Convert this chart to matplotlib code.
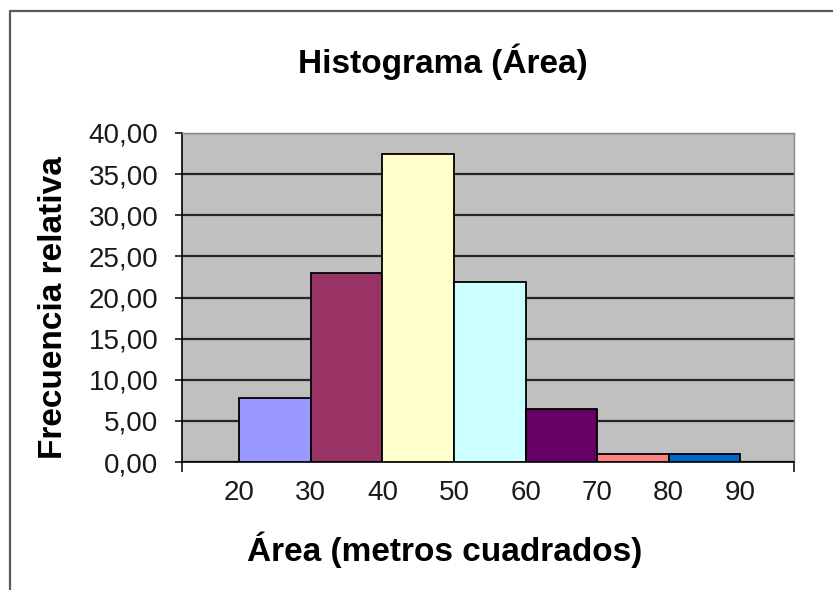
import matplotlib
matplotlib.use("Agg")
import matplotlib.pyplot as plt
from matplotlib.lines import Line2D
from matplotlib.ticker import FixedLocator, FuncFormatter

# Histogram data: class boundaries (m²) and relative frequency (%) per class
bin_edges = [20, 30, 40, 50, 60, 70, 80, 90]
rel_freq = [7.77, 23.0, 37.5, 21.9, 6.4, 1.0, 1.0]
bar_colors = ["#9999FF", "#993366", "#FFFFCC", "#CCFFFF", "#660066", "#FF8080", "#0066CC"]
y_ticks = [0, 5, 10, 15, 20, 25, 30, 35, 40]

title = "Histograma (Área)"
x_label = "Área (metros cuadrados)"
y_label = "Frecuencia relativa"

plt.rcParams["font.family"] = ["Liberation Sans", "DejaVu Sans"]

W, H = 833, 590
fig = plt.figure(figsize=(W / 100, H / 100), dpi=100)
fig.patch.set_facecolor("white")

# plot area in pixel terms
left, right, top, bottom = 182, 794, 133, 462
ax = fig.add_axes([left / W, 1 - bottom / H, (right - left) / W, (bottom - top) / H])
ax.set_facecolor("#C0C0C0")

widths = [b - a for a, b in zip(bin_edges[:-1], bin_edges[1:])]
ax.bar(bin_edges[:-1], rel_freq, width=widths, align="edge",
       color=bar_colors, edgecolor="black", linewidth=1.3, zorder=3)

ax.set_xlim(12.0, 97.5)
ax.set_ylim(y_ticks[0], y_ticks[-1])

# y axis
ax.yaxis.set_major_locator(FixedLocator(y_ticks))
ax.yaxis.set_major_formatter(FuncFormatter(lambda v, p: f"{v:.2f}".replace(".", ",")))
ax.tick_params(axis="y", direction="out", length=5, width=1.1, pad=12,
               labelsize=20, labelcolor="#1a1a1a", color="black")
ax.grid(axis="y", color="#262626", linewidth=1.6, zorder=1)
ax.set_axisbelow(True)

# x axis: labels at class boundaries, tick marks only at both ends
ax.set_xticks(bin_edges)
ax.set_xticklabels([str(e) for e in bin_edges])
ax.tick_params(axis="x", which="major", length=0, pad=13,
               labelsize=20, labelcolor="#1a1a1a")
ax.set_xticks(list(ax.get_xlim()), minor=True)
ax.tick_params(axis="x", which="minor", direction="out", length=7, width=1.1, color="black")

for side in ("left", "bottom"):
    ax.spines[side].set_color("black")
    ax.spines[side].set_linewidth(1.2)
for side in ("top", "right"):
    ax.spines[side].set_color("#8a8a8a")
    ax.spines[side].set_linewidth(1.0)

# chart titles
fig.text(443 / W, 1 - 62 / H, title, ha="center", va="center",
         fontsize=24, fontweight="bold", color="black")
fig.text(54 / W, 1 - 308 / H, y_label, ha="center", va="center", rotation=90,
         fontsize=24, fontweight="bold", color="black")
fig.text(445 / W, 1 - 550 / H, x_label, ha="center", va="center",
         fontsize=24, fontweight="bold", color="black")

# chart frame (runs off the right and bottom edges)
fx, fy = 10 / W, 1 - 11 / H
fig.add_artist(Line2D([fx, fx, 1.05], [-0.05, fy, fy], transform=fig.transFigure,
                      color="#5a5a5a", linewidth=1.6, clip_on=False))

fig.savefig("out.png", dpi=100)
